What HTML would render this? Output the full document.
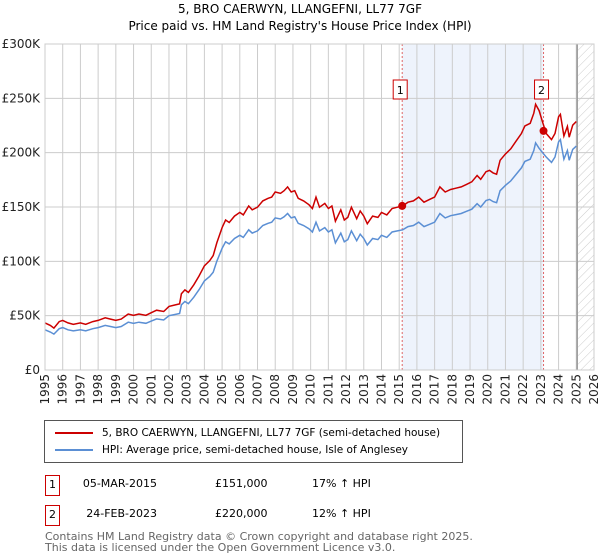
<!DOCTYPE html>
<html><head><meta charset="utf-8"><style>
body{margin:0;width:600px;height:560px;background:#fff;font-family:"DejaVu Sans","Liberation Sans",sans-serif;overflow:hidden;position:relative}
.t{position:absolute;font-size:12px;color:#000;white-space:nowrap}
</style></head><body>
<div class="t" style="left:0;width:600px;text-align:center;top:2px;font-size:12px">5, BRO CAERWYN, LLANGEFNI, LL77 7GF</div>
<div class="t" style="left:0;width:600px;text-align:center;top:19px;font-size:12px">Price paid vs. HM Land Registry's House Price Index (HPI)</div>
<svg id="chart" width="600" height="410" style="position:absolute;left:0;top:0" font-family="DejaVu Sans, Liberation Sans, sans-serif"></svg>
<div style="position:absolute;left:44px;top:420px;width:417px;height:41px;border:1px solid #555;background:#fff">
 <div style="position:absolute;left:10px;top:6px;font-size:10.5px;white-space:nowrap"><span style="display:inline-block;width:38px;height:2px;background:#cc0000;vertical-align:middle;margin-right:9px"></span>5, BRO CAERWYN, LLANGEFNI, LL77 7GF (semi-detached house)</div>
 <div style="position:absolute;left:10px;top:23px;font-size:10.5px;white-space:nowrap"><span style="display:inline-block;width:38px;height:2px;background:#5b8fd4;vertical-align:middle;margin-right:9px"></span>HPI: Average price, semi-detached house, Isle of Anglesey</div>
</div>
<div style="position:absolute;left:45px;top:475px;width:13px;height:19px;border:1px solid #cc0000;font-size:11px;text-align:center;line-height:18px">1</div>
<div class="t" style="left:57px;width:100px;text-align:right;top:477px;font-size:11px">05-MAR-2015</div>
<div class="t" style="left:215px;top:477px;font-size:11px">£151,000</div>
<div class="t" style="left:312px;top:477px;font-size:11px">17% ↑ HPI</div>
<div style="position:absolute;left:45px;top:505px;width:13px;height:19px;border:1px solid #cc0000;font-size:11px;text-align:center;line-height:18px">2</div>
<div class="t" style="left:57px;width:100px;text-align:right;top:507px;font-size:11px">24-FEB-2023</div>
<div class="t" style="left:215px;top:507px;font-size:11px">£220,000</div>
<div class="t" style="left:312px;top:507px;font-size:11px">12% ↑ HPI</div>
<div class="t" style="left:45px;top:531px;font-size:11px;line-height:11px;color:#666">Contains HM Land Registry data © Crown copyright and database right 2025.<br>This data is licensed under the Open Government Licence v3.0.</div>
<script>
const hpiYears=[1995.0,1995.3,1995.5,1995.8,1996.0,1996.3,1996.6,1997.0,1997.3,1997.7,1998.0,1998.4,1998.7,1999.0,1999.3,1999.7,2000.0,2000.3,2000.7,2001.0,2001.3,2001.7,2002.0,2002.3,2002.6,2002.7,2002.9,2003.1,2003.4,2003.7,2004.0,2004.3,2004.5,2004.7,2005.0,2005.2,2005.4,2005.7,2006.0,2006.2,2006.5,2006.7,2007.0,2007.3,2007.6,2007.8,2008.0,2008.3,2008.5,2008.7,2008.9,2009.1,2009.3,2009.6,2009.9,2010.1,2010.3,2010.5,2010.8,2011.0,2011.2,2011.4,2011.7,2011.9,2012.1,2012.3,2012.6,2012.8,2013.0,2013.2,2013.5,2013.8,2014.0,2014.3,2014.6,2014.9,2015.2,2015.5,2015.8,2016.1,2016.4,2016.7,2017.0,2017.3,2017.6,2017.9,2018.2,2018.5,2018.8,2019.1,2019.4,2019.6,2019.9,2020.1,2020.3,2020.5,2020.7,2021.0,2021.3,2021.6,2021.9,2022.1,2022.4,2022.6,2022.7,2022.9,2023.1,2023.3,2023.6,2023.8,2024.0,2024.1,2024.3,2024.5,2024.6,2024.8,2025.0];
const hpiValues=[37,35,33,38,39,37,36,37,36,38,39,41,40,39,40,44,43,44,43,45,47,46,50,51,52,60,63,61,67,74,82,86,90,100,112,118,116,121,124,122,129,126,128,133,135,136,140,139,141,144,140,141,135,133,130,127,136,128,131,127,129,117,126,118,120,128,119,125,121,115,121,120,124,122,127,128,129,132,133,136,132,134,136,144,140,142,143,144,146,148,153,150,156,157,155,154,165,170,174,180,186,192,194,202,209,204,200,196,191,196,210,212,194,202,193,203,206];
const priceValues=[43.3,41,38.6,44.5,45.6,43.3,42.1,43.3,42.1,44.5,45.6,48,46.8,45.6,46.8,51.5,50.3,51.5,50.3,52.7,55,53.8,58.5,59.7,60.8,70.2,73.7,71.4,78.4,86.6,95.9,100.6,105.3,117,131,138,135.7,141.6,145,142.7,150.9,147.4,149.8,155.6,158,159.1,163.8,162.6,165,168.5,163.8,165,158,155.6,152.1,148.6,159.1,149.8,153.3,148.6,150.9,136.9,147.4,138,140.4,149.8,139.2,146.3,141.6,134.6,141.6,140.4,145,142.7,148.6,149.8,151,154.4,155.6,159.1,154.4,156.8,159.1,168.5,163.8,166.1,167.3,168.5,170.8,173.2,179,175.5,182.5,183.7,181.4,180.2,193,198.9,203.6,210.6,217.6,224.6,227,236.3,244.5,238.7,228,217.6,212,217.6,233.1,235.3,215.3,224.2,214.2,225.3,228.7];
const saleYears=[2015.17,2023.15];
const salePrices=[151,220];
const saleLabels=["1","2"];
const yTicks=[0,50,100,150,200,250,300];
const yTickLabels=["£0","£50K","£100K","£150K","£200K","£250K","£300K"];
const xTicks=[1995,1996,1997,1998,1999,2000,2001,2002,2003,2004,2005,2006,2007,2008,2009,2010,2011,2012,2013,2014,2015,2016,2017,2018,2019,2020,2021,2022,2023,2024,2025,2026];

const L=45,R=594,T=44,B=370;
const x=v=>L+(v-1995)/(2026-1995)*(R-L);
const y=v=>B-v/300*(B-T);
const svg=document.getElementById('chart');
const NS='http://www.w3.org/2000/svg';
function mk(tag,attrs,parent){const e=document.createElementNS(NS,tag);for(const k in attrs)e.setAttribute(k,attrs[k]);(parent||svg).appendChild(e);return e;}
const defs=mk('defs',{});
const pat=mk('pattern',{id:'hatch',width:6,height:6,patternUnits:'userSpaceOnUse',patternTransform:'rotate(45)'},defs);
mk('line',{x1:0,y1:0,x2:0,y2:6,stroke:'#ccc','stroke-width':1},pat);
let e=mk('rect',{x:x(saleYears[0]),y:T,width:x(saleYears[1])-x(saleYears[0]),height:B-T,fill:'#eef3fc'});


e=mk('rect',{x:x(2025.1),y:T,width:R-x(2025.1),height:B-T,fill:'url(#hatch)'});


yTicks.forEach((t,i)=>{
 let g=mk('line',{x1:L,x2:R,y1:y(t),y2:y(t),stroke:'#ccc','stroke-width':1});
 
 
 let tx=mk('text',{x:L-5,y:y(t)+4,'text-anchor':'end','font-size':12,fill:'#222'});
 tx.textContent=yTickLabels[i];
 
 
});
xTicks.forEach(t=>{
 let g=mk('line',{x1:x(t),x2:x(t),y1:T,y2:B,stroke:'#ccc','stroke-width':1});
 
 
 let tx=mk('text',{x:0,y:0,'text-anchor':'end','font-size':12,fill:'#222',transform:`translate(${x(t)+4},${B+4}) rotate(-90)`});
 tx.textContent=t;
 
 
});
e=mk('line',{x1:x(2025.05),x2:x(2025.05),y1:T,y2:B,stroke:'#999','stroke-width':1.5});


saleYears.forEach((s,i)=>{
 let l=mk('line',{x1:x(s),x2:x(s),y1:T,y2:B,stroke:'#e06666','stroke-width':1,'stroke-dasharray':'2,2'});
 
 
 let bx=mk('rect',{x:x(s)-9,y:80,width:14,height:19,fill:'#fff',stroke:'#cc0000','stroke-width':1});
 
 
 let tx=mk('text',{x:x(s)-2,y:94,'text-anchor':'middle','font-size':11,fill:'#000'});
 tx.textContent=saleLabels[i];
 
 
});
const hp=mk('polyline',{points:hpiYears.map((t,i)=>x(t).toFixed(1)+','+y(hpiValues[i]).toFixed(1)).join(' '),fill:'none',stroke:'#5b8fd4','stroke-width':1.5});


const pp=mk('polyline',{points:hpiYears.map((t,i)=>x(t).toFixed(1)+','+y(priceValues[i]).toFixed(1)).join(' '),fill:'none',stroke:'#cc0000','stroke-width':1.5});


saleYears.forEach((s,i)=>{
 let c=mk('circle',{cx:x(s),cy:y(salePrices[i]),r:4,fill:'#cc0000'});
 
 
});
e=mk('rect',{x:L,y:T,width:R-L,height:B-T,fill:'none',stroke:'#ccc','stroke-width':1});


</script>
</body></html>
